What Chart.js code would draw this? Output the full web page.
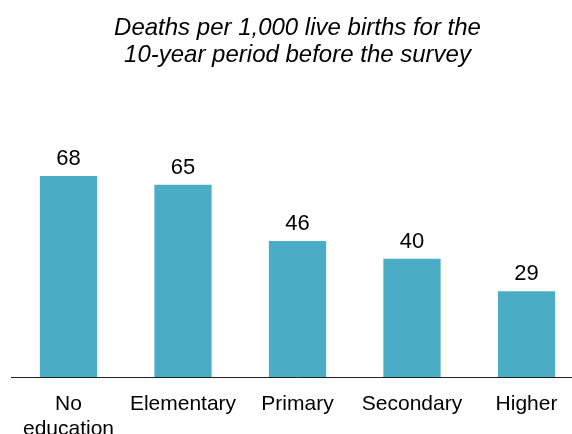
<!DOCTYPE html>
<html>
<head>
<meta charset="utf-8">
<script src="https://cdn.jsdelivr.net/npm/chart.js@4"></script>
<style>
  html, body { margin: 0; padding: 0; background: #ffffff; overflow: hidden; width: 572px; height: 434px; }
  #wrap { width: 572px; height: 434px; overflow: hidden; position: relative; }
  canvas { display: block; }
</style>
</head>
<body>
<div id="wrap"><canvas id="c" width="598" height="457"></canvas></div>
<script>
const titleLines = ['Deaths per 1,000 live births for the', '10-year period before the survey'];
const categories = [['No', 'education'], 'Elementary', 'Primary', 'Secondary', 'Higher'];
const deathRates = [68, 65, 46, 40, 29];
const barColor = '#4BACC6';
const FONT = '"Liberation Sans", Arial, Helvetica, sans-serif';

const valueLabels = {
  id: 'valueLabels',
  afterDatasetsDraw(chart) {
    const ctx = chart.ctx;
    const meta = chart.getDatasetMeta(0);
    ctx.save();
    ctx.font = '22px ' + FONT;
    ctx.fillStyle = '#000000';
    ctx.textAlign = 'center';
    ctx.textBaseline = 'alphabetic';
    meta.data.forEach((bar, i) => {
      ctx.fillText(String(chart.data.datasets[0].data[i]), bar.x, bar.y - 11);
    });
    ctx.restore();
  }
};

new Chart(document.getElementById('c'), {
  type: 'bar',
  data: {
    labels: categories,
    datasets: [{
      data: deathRates,
      backgroundColor: barColor,
      borderWidth: 0,
      barPercentage: 0.5,
      categoryPercentage: 1.0
    }]
  },
  options: {
    responsive: false,
    animation: false,
    devicePixelRatio: 1,
    layout: { padding: { left: 11.25, right: 14.25, top: 0, bottom: 0 } },
    plugins: {
      legend: { display: false },
      tooltip: { enabled: false },
      title: {
        display: true,
        text: titleLines,
        color: '#000000',
        font: { family: FONT, size: 24, style: 'italic', weight: 'normal', lineHeight: 1.125 },
        padding: { top: 15, bottom: 71.5 }
      }
    },
    scales: {
      x: {
        grid: { display: false, drawTicks: false },
        border: { display: true, color: '#222222', width: 1 },
        ticks: {
          color: '#000000',
          font: { family: FONT, size: 21, lineHeight: 1.19 },
          padding: 15,
          autoSkip: false,
          maxRotation: 0,
          minRotation: 0
        }
      },
      y: {
        display: false,
        min: 0,
        max: 80
      }
    }
  },
  plugins: [valueLabels]
});
</script>
</body>
</html>
